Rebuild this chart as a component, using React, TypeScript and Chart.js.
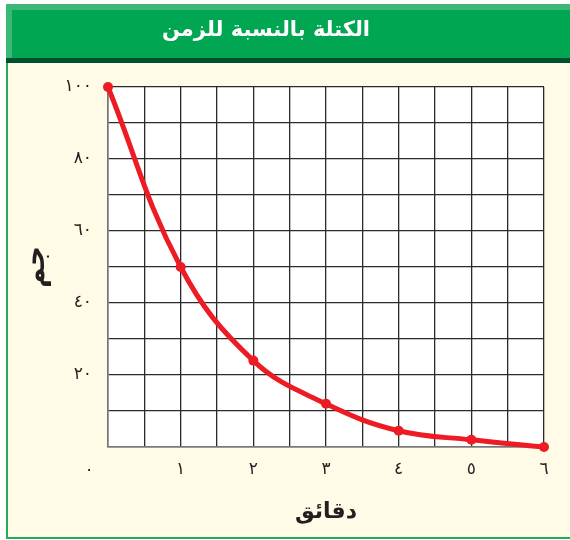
import React, { useEffect, useRef } from "react";
import { Chart, registerables } from "chart.js";

Chart.register(...registerables);

// ---- data ----
const TITLE = "الكتلة بالنسبة للزمن";
const X_TITLE = "دقائق";
const Y_TITLE = "جم";
const minutes = [0, 1, 2, 3, 4, 5, 6];
const massGrams = [100, 50, 24, 12, 4.5, 2, 0];
const X_MIN = 0;
const X_MAX = 6;
const Y_MIN = 0;
const Y_MAX = 100;
const X_GRID_STEP = 0.5;
const Y_GRID_STEP = 10;
const Y_LABEL_STEP = 20;
const ORIGIN_LABEL = "٠";

const AR_DIGITS = "٠١٢٣٤٥٦٧٨٩";
const toArabicDigits = (n: number) =>
  String(n).replace(/\d/g, (d) => AR_DIGITS[Number(d)]);

const FONT = "'DejaVu Sans', sans-serif";
const RED = "#ed1c24";
const TEXT = "#231f20";

const framePlugin = {
  id: "frame",
  beforeDraw(chart: any) {
    const { ctx, chartArea: ca, width, height } = chart;
    ctx.save();
    ctx.fillStyle = "#ffffff";
    ctx.fillRect(0, 0, width, height);
    // cream panel
    ctx.fillStyle = "#fffbe6";
    ctx.fillRect(6, 63, width - 6, 475);
    // left and bottom green rules
    ctx.fillStyle = "#22ad5c";
    ctx.fillRect(6, 4, 2, 535);
    ctx.fillRect(6, 537, width - 6, 2);
    // banner
    ctx.fillStyle = "#3bb877";
    ctx.fillRect(6, 4, width - 6, 54);
    ctx.fillStyle = "#00a651";
    ctx.fillRect(12, 10, width - 12, 48);
    ctx.fillStyle = "#004f2d";
    ctx.fillRect(6, 58, width - 6, 5);
    // banner title
    ctx.font = `bold 21px ${FONT}`;
    ctx.fillStyle = "#ffffff";
    ctx.textAlign = "center";
    ctx.textBaseline = "middle";
    ctx.fillText(TITLE, 266, 31);
    // plot area
    ctx.fillStyle = "#ffffff";
    ctx.fillRect(ca.left, ca.top, ca.right - ca.left, ca.bottom - ca.top);
    ctx.restore();
  },
  afterDraw(chart: any) {
    const { ctx, chartArea: ca } = chart;
    ctx.save();
    ctx.font = `17px ${FONT}`;
    ctx.fillStyle = TEXT;
    ctx.textAlign = "center";
    ctx.textBaseline = "middle";
    ctx.fillText(ORIGIN_LABEL, ca.left - 19, ca.bottom + 24);
    ctx.restore();
  },
};

export default function App() {
  const ref = useRef<HTMLCanvasElement | null>(null);

  useEffect(() => {
    if (!ref.current) return;
    const points = minutes.map((m, i) => ({ x: m, y: massGrams[i] }));
    const chart = new Chart(ref.current, {
      type: "line",
      data: {
        datasets: [
          {
            data: points,
            borderColor: RED,
            backgroundColor: RED,
            borderWidth: 5,
            pointRadius: 5,
            pointBorderWidth: 0,
            pointBackgroundColor: RED,
            tension: 0.4,
            clip: false as any,
          },
        ],
      },
      options: {
        animation: false,
        responsive: false,
        devicePixelRatio: 1,
        layout: { padding: { left: 20, right: 26, top: 87, bottom: 0 } },
        plugins: {
          legend: { display: false },
          tooltip: { enabled: false },
          title: { display: false },
        },
        scales: {
          x: {
            type: "linear",
            min: X_MIN,
            max: X_MAX,
            afterFit: (s: any) => {
              s.height = 93;
            },
            ticks: {
              stepSize: X_GRID_STEP,
              autoSkip: false,
              maxRotation: 0,
              padding: 12,
              color: TEXT,
              font: { family: FONT, size: 17 },
              callback: (v: any) =>
                Number.isInteger(v) && v !== 0 ? toArabicDigits(v) : "",
            },
            grid: { color: "#2a2a2a", lineWidth: 1.3, drawTicks: false },
            border: { display: true, color: "#777777", width: 1.5 },
            title: {
              display: true,
              text: X_TITLE,
              color: TEXT,
              font: { family: FONT, size: 22, weight: "bold" },
              padding: { top: 0, bottom: 15 },
            },
          },
          y: {
            min: Y_MIN,
            max: Y_MAX,
            afterFit: (s: any) => {
              s.width = 88;
            },
            ticks: {
              stepSize: Y_GRID_STEP,
              autoSkip: false,
              padding: 16,
              color: TEXT,
              font: { family: FONT, size: 17 },
              callback: (v: any) =>
                v % Y_LABEL_STEP === 0 && v !== 0 ? toArabicDigits(v) : "",
            },
            grid: { color: "#2a2a2a", lineWidth: 1.3, drawTicks: false },
            border: { display: true, color: "#777777", width: 1.5 },
            title: {
              display: true,
              text: Y_TITLE,
              color: TEXT,
              font: { family: FONT, size: 28, weight: "bold" },
              padding: { top: 0, bottom: 0 },
            },
          },
        },
      },
      plugins: [framePlugin],
    });
    return () => chart.destroy();
  }, []);

  return (
    <div style={{ position: "fixed", left: 0, top: 0, width: 570, height: 540 }}>
      <canvas ref={ref} width={570} height={540} style={{ display: "block" }} />
    </div>
  );
}
